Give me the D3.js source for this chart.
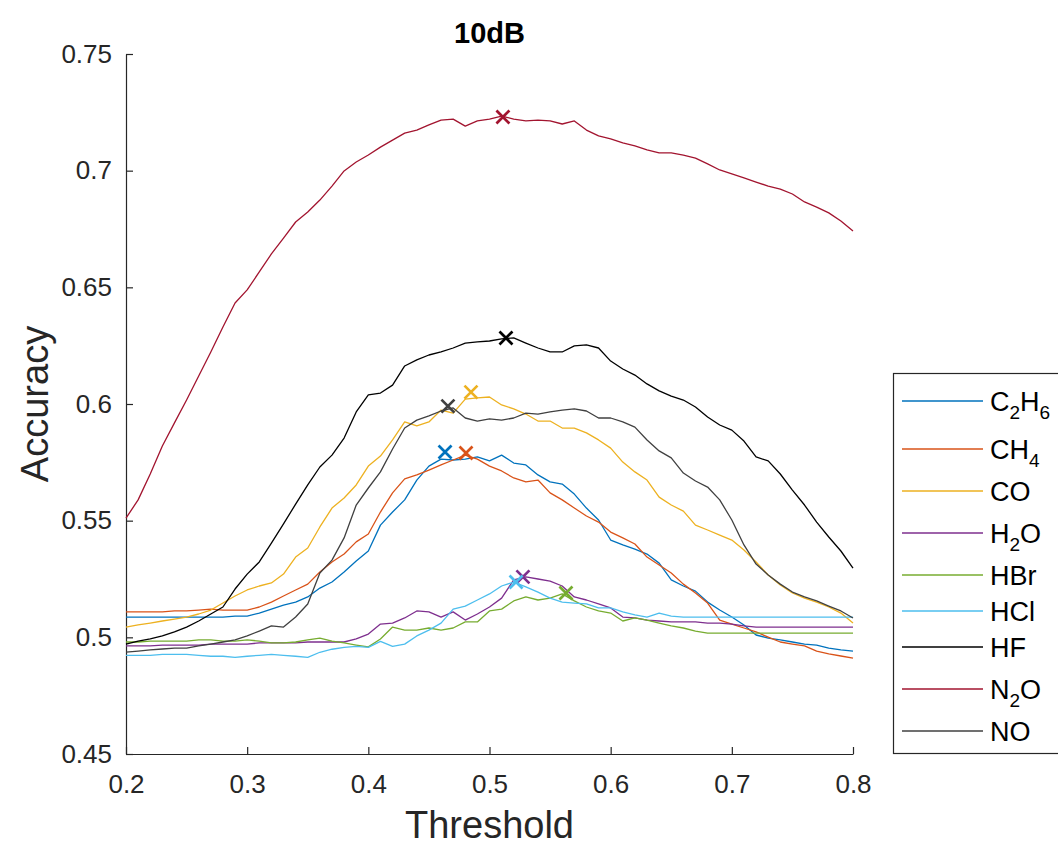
<!DOCTYPE html>
<html>
<head>
<meta charset="utf-8">
<script src="https://cdn.jsdelivr.net/npm/d3@7"></script>
<style>
  html, body { margin: 0; padding: 0; background: #fff; }
  svg { display: block; font-family: "Liberation Sans", Arial, Helvetica, sans-serif; }
</style>
</head>
<body>
<svg id="chart" width="1058" height="845"></svg>
<script>
const title = "10dB";
const xLabel = "Threshold";
const yLabel = "Accuracy";
const xTicks = [0.2, 0.3, 0.4, 0.5, 0.6, 0.7, 0.8];
const yTicks = [0.45, 0.5, 0.55, 0.6, 0.65, 0.7, 0.75];

const thresholds = [0.20,0.21,0.22,0.23,0.24,0.25,0.26,0.27,0.28,0.29,
  0.30,0.31,0.32,0.33,0.34,0.35,0.36,0.37,0.38,0.39,
  0.40,0.41,0.42,0.43,0.44,0.45,0.46,0.47,0.48,0.49,
  0.50,0.51,0.52,0.53,0.54,0.55,0.56,0.57,0.58,0.59,
  0.60,0.61,0.62,0.63,0.64,0.65,0.66,0.67,0.68,0.69,
  0.70,0.71,0.72,0.73,0.74,0.75,0.76,0.77,0.78,0.79,0.80];

const seriesNames = ["C2H6", "CH4", "CO", "H2O", "HBr", "HCl", "HF", "N2O", "NO"];
const seriesColors = ["#0072BD", "#D95319", "#EDB120", "#7E2F8E", "#77AC30", "#4DBEEE", "#000000", "#A2142F", "#404040"];

const C2H6 = [0.5087,0.5087,0.5087,0.5087,0.5087,0.5087,0.5087,0.5087,0.5087,0.5091,
  0.5091,0.5104,0.5121,0.5138,0.5151,0.5173,0.5211,0.5237,0.5280,0.5327,
  0.5370,0.5481,0.5537,0.5589,0.5674,0.5734,0.5764,0.5760,0.5764,0.5773,
  0.5756,0.5781,0.5747,0.5739,0.5696,0.5666,0.5657,0.5614,0.5554,0.5503,
  0.5417,0.5396,0.5378,0.5357,0.5318,0.5246,0.5220,0.5198,0.5151,0.5117,
  0.5087,0.5053,0.5010,0.4997,0.4989,0.4980,0.4971,0.4967,0.4954,0.4946,0.4941];

const CH4 = [0.5109,0.5109,0.5109,0.5109,0.5113,0.5113,0.5117,0.5121,0.5117,0.5117,
  0.5117,0.5130,0.5151,0.5177,0.5203,0.5228,0.5280,0.5323,0.5357,0.5409,
  0.5443,0.5537,0.5619,0.5679,0.5696,0.5717,0.5739,0.5760,0.5781,0.5764,
  0.5734,0.5713,0.5683,0.5666,0.5674,0.5619,0.5589,0.5554,0.5520,0.5494,
  0.5451,0.5426,0.5400,0.5344,0.5310,0.5276,0.5228,0.5190,0.5147,0.5074,
  0.5057,0.5040,0.5023,0.5001,0.4980,0.4971,0.4963,0.4941,0.4929,0.4920,0.4911];

const CO = [0.5044,0.5053,0.5061,0.5070,0.5078,0.5087,0.5100,0.5117,0.5147,0.5177,
  0.5203,0.5220,0.5233,0.5271,0.5344,0.5383,0.5473,0.5554,0.5597,0.5653,
  0.5734,0.5777,0.5846,0.5923,0.5906,0.5923,0.5974,0.5961,0.6021,0.6026,
  0.6030,0.5996,0.5979,0.5957,0.5927,0.5927,0.5897,0.5897,0.5876,0.5846,
  0.5811,0.5751,0.5709,0.5674,0.5601,0.5567,0.5541,0.5481,0.5460,0.5438,
  0.5417,0.5374,0.5323,0.5267,0.5224,0.5190,0.5168,0.5151,0.5130,0.5104,0.5061];

const H2O = [0.4963,0.4963,0.4963,0.4967,0.4967,0.4967,0.4967,0.4971,0.4971,0.4971,
  0.4971,0.4976,0.4976,0.4976,0.4976,0.4980,0.4980,0.4980,0.4980,0.4993,
  0.5014,0.5057,0.5061,0.5083,0.5113,0.5109,0.5087,0.5109,0.5074,0.5100,
  0.5130,0.5168,0.5246,0.5259,0.5250,0.5241,0.5220,0.5173,0.5160,0.5143,
  0.5126,0.5087,0.5083,0.5074,0.5070,0.5066,0.5066,0.5066,0.5061,0.5061,
  0.5057,0.5049,0.5044,0.5044,0.5044,0.5044,0.5044,0.5044,0.5044,0.5044,0.5044];

const HBr = [0.4980,0.4980,0.4984,0.4984,0.4984,0.4984,0.4989,0.4989,0.4984,0.4984,
  0.4989,0.4984,0.4976,0.4976,0.4980,0.4989,0.4997,0.4984,0.4976,0.4967,
  0.4959,0.4993,0.5044,0.5031,0.5031,0.5040,0.5031,0.5040,0.5066,0.5066,
  0.5113,0.5121,0.5156,0.5173,0.5160,0.5168,0.5186,0.5156,0.5130,0.5113,
  0.5104,0.5070,0.5083,0.5074,0.5061,0.5049,0.5040,0.5027,0.5018,0.5018,
  0.5018,0.5018,0.5018,0.5018,0.5018,0.5018,0.5018,0.5018,0.5018,0.5018,0.5018];

const HCl = [0.4923,0.4923,0.4923,0.4927,0.4927,0.4927,0.4923,0.4919,0.4919,0.4914,
  0.4919,0.4923,0.4927,0.4923,0.4919,0.4914,0.4936,0.4949,0.4957,0.4961,
  0.4957,0.4983,0.4961,0.4971,0.5006,0.5031,0.5061,0.5121,0.5134,0.5160,
  0.5186,0.5220,0.5237,0.5216,0.5194,0.5168,0.5151,0.5147,0.5143,0.5126,
  0.5126,0.5109,0.5096,0.5087,0.5104,0.5091,0.5087,0.5087,0.5087,0.5087,
  0.5087,0.5087,0.5087,0.5087,0.5087,0.5087,0.5087,0.5087,0.5087,0.5087,0.5087];

const HF = [0.4971,0.4984,0.4993,0.5006,0.5023,0.5044,0.5070,0.5100,0.5130,0.5207,
  0.5271,0.5323,0.5404,0.5486,0.5571,0.5653,0.5730,0.5781,0.5854,0.5966,
  0.6039,0.6047,0.6081,0.6163,0.6189,0.6210,0.6223,0.6240,0.6261,0.6266,
  0.6270,0.6279,0.6283,0.6261,0.6240,0.6223,0.6223,0.6249,0.6253,0.6240,
  0.6184,0.6150,0.6124,0.6086,0.6056,0.6034,0.6017,0.5987,0.5944,0.5910,
  0.5888,0.5841,0.5773,0.5756,0.5700,0.5631,0.5567,0.5494,0.5430,0.5370,0.5297];

const N2O = [0.5511,0.5589,0.5700,0.5820,0.5919,0.6017,0.6120,0.6223,0.6330,0.6433,
  0.6489,0.6566,0.6643,0.6711,0.6780,0.6823,0.6874,0.6934,0.6999,0.7037,
  0.7067,0.7101,0.7131,0.7161,0.7174,0.7196,0.7217,0.7221,0.7191,0.7213,
  0.7221,0.7234,0.7221,0.7213,0.7217,0.7213,0.7200,0.7213,0.7174,0.7149,
  0.7136,0.7119,0.7106,0.7089,0.7076,0.7076,0.7067,0.7054,0.7029,0.7003,
  0.6986,0.6969,0.6951,0.6934,0.6921,0.6900,0.6866,0.6844,0.6819,0.6784,0.6741];

const NO = [0.4937,0.4941,0.4946,0.4950,0.4954,0.4954,0.4963,0.4971,0.4980,0.4989,
  0.5006,0.5027,0.5049,0.5044,0.5087,0.5143,0.5276,0.5331,0.5426,0.5567,
  0.5640,0.5709,0.5807,0.5897,0.5931,0.5949,0.5970,0.5983,0.5940,0.5927,
  0.5936,0.5931,0.5940,0.5961,0.5957,0.5966,0.5974,0.5979,0.5970,0.5940,
  0.5940,0.5923,0.5901,0.5846,0.5799,0.5769,0.5704,0.5670,0.5644,0.5589,
  0.5503,0.5396,0.5314,0.5267,0.5228,0.5194,0.5173,0.5156,0.5134,0.5113,0.5083];

const seriesValues = [C2H6, CH4, CO, H2O, HBr, HCl, HF, N2O, NO];

// peak markers (threshold, accuracy)
const peakX = [0.4633, 0.4806, 0.4847, 0.5276, 0.5631, 0.5219, 0.5136, 0.5111, 0.4657];
const peakY = [0.5794, 0.5790, 0.6051, 0.5259, 0.5190, 0.5237, 0.6283, 0.7230, 0.5991];

// legend labels with subscripts: [text, isSubscript]
const legendLabels = [
  [["C", 0], ["2", 1], ["H", 0], ["6", 1]],
  [["CH", 0], ["4", 1]],
  [["CO", 0]],
  [["H", 0], ["2", 1], ["O", 0]],
  [["HBr", 0]],
  [["HCl", 0]],
  [["HF", 0]],
  [["N", 0], ["2", 1], ["O", 0]],
  [["NO", 0]]
];

const svg = d3.select("#chart");
const axisColor = "#262626";

const x = d3.scaleLinear().domain([0.2, 0.8]).range([126, 853]);
const y = d3.scaleLinear().domain([0.45, 0.75]).range([754, 54]);

// axes
const xAxis = d3.axisBottom(x).tickValues(xTicks).tickSize(-7).tickSizeOuter(0).tickPadding(21)
  .tickFormat(d => d3.format("")(+d.toFixed(2)));
const yAxis = d3.axisLeft(y).tickValues(yTicks).tickSize(-7).tickSizeOuter(0).tickPadding(14)
  .tickFormat(d => d3.format("")(+d.toFixed(2)));

const gx = svg.append("g").attr("transform", "translate(0,754)").call(xAxis);
const gy = svg.append("g").attr("transform", "translate(126,0)").call(yAxis);
[gx, gy].forEach(g => {
  g.select(".domain").attr("stroke", axisColor).attr("stroke-width", 1.2);
  g.selectAll(".tick line").attr("stroke", axisColor).attr("stroke-width", 1.2);
  g.selectAll(".tick text").attr("fill", axisColor)
    .style("font-size", "26px")
    .style("font-family", "'Liberation Sans', Arial, Helvetica, sans-serif");
});

// lines
const line = d3.line().x((d, i) => x(thresholds[i])).y(d => y(d));
seriesValues.forEach((vals, k) => {
  svg.append("path")
    .datum(vals)
    .attr("fill", "none")
    .attr("stroke", seriesColors[k])
    .attr("stroke-width", 1.3)
    .attr("stroke-linejoin", "round")
    .attr("d", line);
});

// peak markers
const ms = 6.5;
seriesNames.forEach((n, k) => {
  const cx = x(peakX[k]), cy = y(peakY[k]);
  svg.append("path")
    .attr("d", `M${cx - ms},${cy - ms}L${cx + ms},${cy + ms}M${cx - ms},${cy + ms}L${cx + ms},${cy - ms}`)
    .attr("stroke", seriesColors[k])
    .attr("stroke-width", 2.7)
    .attr("fill", "none");
});

// title & labels
svg.append("text").attr("x", 489.5).attr("y", 43).attr("text-anchor", "middle")
  .style("font-size", "29px").style("font-weight", "bold").attr("fill", "#000").text(title);
svg.append("text").attr("x", 489.5).attr("y", 838).attr("text-anchor", "middle")
  .style("font-size", "38px").attr("fill", axisColor).text(xLabel);
svg.append("text").attr("transform", "translate(48,404) rotate(-90)").attr("text-anchor", "middle")
  .style("font-size", "38px").attr("fill", axisColor).text(yLabel);

// legend
const lg = svg.append("g");
lg.append("rect").attr("x", 893.5).attr("y", 373.5).attr("width", 200).attr("height", 380)
  .attr("fill", "#fff").attr("stroke", axisColor).attr("stroke-width", 1.2);
let ly = 377;
legendLabels.forEach((parts, k) => {
  const hasSub = parts.some(p => p[1]);
  const h = hasSub ? 48 : 36;
  const cy = ly + h / 2;
  lg.append("line").attr("x1", 902).attr("x2", 983).attr("y1", cy).attr("y2", cy)
    .attr("stroke", seriesColors[k]).attr("stroke-width", 1.3);
  const t = lg.append("text").attr("x", 990).attr("y", cy + 10)
    .style("font-size", "27px").attr("fill", "#000");
  parts.forEach(p => {
    if (p[1]) {
      t.append("tspan").attr("dy", 8).style("font-size", "19px").text(p[0]);
    } else {
      const ts = t.append("tspan").text(p[0]);
      if (t.selectAll("tspan").size() > 1) ts.attr("dy", -8);
    }
  });
  ly += h;
});
</script>
</body>
</html>
